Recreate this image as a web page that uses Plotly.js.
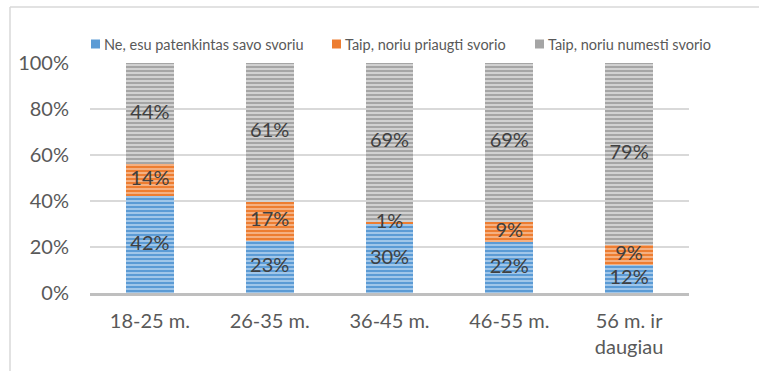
<!DOCTYPE html>
<html>
<head>
<meta charset="utf-8">
<script src="https://cdn.plot.ly/plotly-3.0.1.min.js"></script>
<style>
  html, body { margin: 0; padding: 0; background: #fff; }
  #chart { width: 759px; height: 371px; }
</style>
</head>
<body>
<div id="chart"></div>
<script>
// Age groups and answers (percent of respondents in each group)
const categories = ['18-25 m.', '26-35 m.', '36-45 m.', '46-55 m.', '56 m. ir<br>daugiau'];
const seriesNames = ['Ne, esu patenkintas savo svoriu', 'Taip, noriu priaugti svorio', 'Taip, noriu numesti svorio'];
const satisfied = [42, 23, 30, 22, 12];
const gain = [14, 17, 1, 9, 9];
const lose = [44, 61, 69, 69, 79];
const yTicks = [0, 20, 40, 60, 80, 100];

const seriesValues = [satisfied, gain, lose];
const baseColors = ['#5B9BD5', '#ED7D31', '#A5A5A5'];
const stripeColors = ['#A8CBEC', '#F6B68A', '#D6D6D6'];

// plot area in pixels
const W = 759, H = 371;
const L = 90, R = 70, T = 63, B = 78;
const pw = W - L - R, ph = H - T - B;
const px = x => (x - L) / pw;
const py = y => (H - B - y) / ph;

// stacked bars, normalised to 100% per group
const barTraces = seriesValues.map((vals, i) => ({
  type: 'bar',
  name: seriesNames[i],
  x: categories,
  y: vals,
  marker: {
    color: baseColors[i],
    line: { width: 0 },
    pattern: { shape: '-', fgcolor: stripeColors[i], bgcolor: baseColors[i], size: 4, solidity: 0.45, fillmode: 'replace' }
  },
  hoverinfo: 'skip',
  showlegend: false
}));

// value labels at the middle of each normalised segment, drawn above all bars
const totals = categories.map((_, j) => seriesValues.reduce((s, vals) => s + vals[j], 0));
const labelTraces = seriesValues.map((vals, i) => ({
  type: 'scatter',
  mode: 'text',
  x: categories,
  y: vals.map((v, j) => {
    let below = 0;
    for (let k = 0; k < i; k++) below += seriesValues[k][j];
    return (below + v / 2) / totals[j] * 100;
  }),
  text: vals.map(v => v + '%'),
  textposition: 'middle center',
  textfont: { family: 'Lato, sans-serif', size: 20, color: '#404040' },
  cliponaxis: false,
  hoverinfo: 'skip',
  showlegend: false
}));

// legend drawn by hand: small square + label
const legendX = [91, 332, 535];
const legendY = 44;
const shapes = [];
const annotations = [];
seriesNames.forEach((name, i) => {
  shapes.push({
    type: 'rect', xref: 'paper', yref: 'paper',
    x0: px(legendX[i]), x1: px(legendX[i] + 9),
    y0: py(legendY + 4.5), y1: py(legendY - 4.5),
    fillcolor: baseColors[i], line: { width: 0 }
  });
  annotations.push({
    xref: 'paper', yref: 'paper',
    x: px(legendX[i] + 11), y: py(legendY),
    xanchor: 'left', yanchor: 'middle',
    text: name, showarrow: false,
    font: { family: 'Lato, sans-serif', size: 14.5, color: '#595959' }
  });
});

// outer frame (left and top edges)
shapes.push({
  type: 'line', xref: 'paper', yref: 'paper',
  x0: px(10), x1: px(10), y0: py(7), y1: py(372),
  line: { color: '#D9D9D9', width: 1.5 }
});
shapes.push({
  type: 'line', xref: 'paper', yref: 'paper',
  x0: px(10), x1: px(760), y0: py(7), y1: py(7),
  line: { color: '#D9D9D9', width: 1.5 }
});

const layout = {
  width: W, height: H,
  margin: { l: L, r: R, t: T, b: B },
  paper_bgcolor: '#fff', plot_bgcolor: '#fff',
  barmode: 'stack',
  barnorm: 'percent',
  bargap: 0.6,
  showlegend: false,
  font: { family: 'Lato, sans-serif', color: '#595959' },
  xaxis: {
    type: 'category',
    showgrid: false,
    showline: true, linecolor: '#BFBFBF', linewidth: 3,
    ticks: '', tickfont: { size: 20, color: '#595959' },
    ticklabelstandoff: 8
  },
  yaxis: {
    range: [0, 100],
    tickvals: yTicks,
    ticktext: yTicks.map(v => v + '%'),
    showgrid: true, gridcolor: '#D9D9D9', gridwidth: 1.5,
    zeroline: false, showline: false,
    ticks: '', tickfont: { size: 20, color: '#595959' },
    ticklabelstandoff: 20
  },
  shapes: shapes,
  annotations: annotations
};

Plotly.newPlot('chart', barTraces.concat(labelTraces), layout, { displayModeBar: false, staticPlot: true });
</script>
</body>
</html>
